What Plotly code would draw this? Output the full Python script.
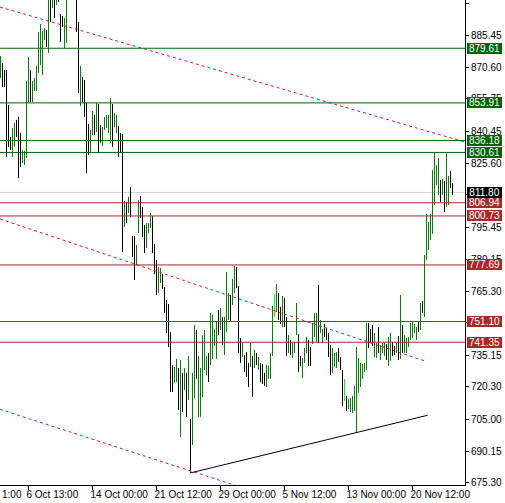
import plotly.graph_objects as go

# ---------------- data ----------------
highs = [
    876.0, 872.7, 869.4, 869.4, 852.9, 837.9, 842.1, 844.5, 845.9, 847.3,
    839.8, 831.8, 831.3, 864.2, 875.5, 869.4, 864.2, 865.6, 871.3, 887.3,
    891.0, 887.7, 889.1, 888.2, 904.6, 906.0, 906.0, 905.0, 907.0, 910.0,
    895.7, 894.8, 893.8, 906.0, 915.0, 918.0, 920.0, 916.0, 908.0, 892.0,
    871.3, 866.1, 864.7, 853.9, 844.0, 841.2, 850.1, 848.2, 853.9, 853.4,
    843.5, 842.6, 847.3, 848.2, 848.2, 856.2, 853.4, 849.2, 848.2, 843.0,
    839.8, 839.3, 807.8, 807.3, 809.7, 814.3, 791.3, 791.3, 787.1, 808.2,
    810.1, 805.0, 796.5, 797.4, 797.4, 802.1, 800.7, 787.5, 780.0, 776.7,
    776.2, 773.4, 767.3, 761.2, 759.3, 746.2, 730.6, 729.7, 733.5, 729.2,
    733.0, 726.9, 729.2, 726.9, 734.9, 705.2, 726.9, 749.4, 747.1, 734.9,
    729.2, 744.7, 747.1, 734.9, 736.3, 755.1, 754.2, 747.6, 750.9, 756.5,
    757.4, 753.2, 753.2, 774.4, 764.5, 763.6, 771.1, 777.2, 776.7, 767.8,
    743.3, 741.0, 735.3, 736.7, 731.6, 741.0, 734.9, 737.7, 736.3, 734.4,
    731.6, 731.1, 726.9, 730.6, 730.2, 736.3, 758.4, 764.0, 768.7, 764.5,
    757.9, 763.1, 762.1, 753.2, 744.7, 742.4, 741.0, 741.5, 759.8, 745.2,
    734.9, 733.9, 738.6, 743.8, 742.4, 739.1, 750.4, 755.1, 755.1, 768.3,
    751.8, 747.6, 749.9, 748.0, 745.7, 740.0, 738.6, 736.3, 736.7, 738.6,
    734.4, 728.3, 724.1, 716.1, 714.7, 715.1, 716.1, 720.8, 739.1, 733.9,
    731.6, 731.1, 731.6, 750.4, 750.4, 747.6, 749.4, 745.7, 741.0, 748.5,
    740.0, 741.0, 741.0, 740.5, 743.8, 745.7, 741.5, 739.6, 741.0, 744.3,
    763.6, 749.4, 744.7, 743.3, 743.8, 750.4, 750.9, 749.9, 748.5, 750.9,
    759.8, 760.7, 782.4, 801.7, 797.9, 801.7, 822.3, 830.3, 824.7, 828.0,
    817.6, 818.1, 817.2, 830.3, 819.5, 821.9, 816.2,
]
lows = [
    865.6, 861.4, 861.4, 828.5, 833.2, 831.8, 828.5, 833.2, 837.9, 818.5,
    823.8, 825.7, 824.7, 828.0, 854.3, 854.3, 854.3, 859.5, 859.5, 868.0,
    871.7, 867.0, 883.5, 880.2, 877.4, 892.0, 898.5, 893.8, 900.0, 901.4,
    882.5, 889.6, 879.7, 882.1, 904.0, 905.0, 908.0, 904.0, 887.3, 858.6,
    852.4, 854.3, 847.3, 820.9, 829.4, 830.3, 838.8, 838.8, 840.2, 830.3,
    835.1, 833.6, 841.2, 842.1, 839.8, 835.1, 833.2, 842.6, 839.8, 828.5,
    830.3, 783.8, 795.5, 797.4, 802.1, 800.2, 781.4, 770.6, 777.7, 792.7,
    799.8, 790.8, 783.3, 785.7, 792.7, 795.1, 783.3, 773.4, 763.6, 764.5,
    769.2, 766.4, 755.1, 745.7, 739.1, 718.0, 718.0, 722.2, 722.6, 709.5,
    696.8, 708.5, 718.9, 706.2, 714.2, 679.9, 693.0, 715.1, 724.1, 706.2,
    706.2, 715.6, 728.3, 725.9, 722.6, 730.6, 733.5, 739.6, 733.5, 744.7,
    747.1, 740.0, 735.3, 746.2, 751.8, 750.9, 758.9, 764.5, 766.8, 736.3,
    731.6, 734.4, 727.3, 725.0, 720.3, 729.7, 715.6, 729.2, 730.6, 728.3,
    722.6, 721.7, 720.8, 720.3, 724.1, 724.1, 734.9, 753.2, 755.6, 751.8,
    749.9, 748.5, 748.5, 734.9, 736.3, 735.3, 733.9, 736.3, 744.7, 727.3,
    730.2, 724.5, 731.6, 736.3, 730.2, 730.2, 740.5, 743.8, 741.5, 741.0,
    745.7, 741.0, 743.8, 742.4, 734.4, 725.9, 726.9, 729.7, 729.2, 732.0,
    728.3, 711.4, 713.7, 709.0, 709.9, 708.5, 708.1, 709.0, 698.7, 717.5,
    720.3, 724.1, 727.3, 728.3, 738.6, 741.0, 739.6, 734.4, 733.9, 736.3,
    733.0, 736.3, 734.9, 733.0, 730.2, 732.5, 734.9, 735.3, 736.3, 733.0,
    733.5, 736.3, 736.3, 736.3, 739.1, 742.4, 743.3, 745.7, 742.4, 746.2,
    747.1, 755.1, 753.2, 780.0, 784.7, 789.4, 792.3, 805.9, 815.3, 810.6,
    807.3, 810.6, 802.6, 804.9, 805.9, 813.9, 810.6,
]
# u = bull bar, d = bear bar, n = neutral bar (one letter per bar)
directions = list(
    "uddddduudd" "duuuuduuuu" "uuudududud" "dduuududdd" "udddduudud"
    "duuuuuduud" "ddududdduu" "ddduuudddu" "udddddduud" "udududuudu"
    "uuuuduuuud" "uduuuduudd" "dudddududu" "ddduuuunud" "dudduduuud"
    "duuudduuud" "uudddduuud" "ddnduuuuuu" "uuuuddduud" "uuuduuddud"
    "uduuuuuuud" "uduuuuuuuu" "duduudd"
)

x_tick_bars = [14, 46, 78, 110, 142, 174, 206]
x_tick_text = ["6 Oct 13:00", "14 Oct 00:00", "21 Oct 12:00", "29 Oct 00:00",
               "5 Nov 12:00", "13 Nov 00:00", "20 Nov 12:00"]
first_label_tail = "1:00"
y_tick_vals = [900.75, 885.45, 870.60, 855.75, 840.45, 825.60, 810.75, 795.45,
               780.15, 765.30, 750.45, 735.15, 720.30, 705.00, 690.15, 675.30]

resistance_levels = [879.61, 853.91, 836.18, 830.61]
support_levels = [806.94, 800.73, 777.69, 751.10, 741.35]
current_price = 811.80

# trend lines: (bar index, price) pairs
trend_upper_x, trend_upper_y = [-0.25, 232.25], [899.0, 835.5]
trend_mid_x, trend_mid_y = [-0.25, 212.25], [799.3, 732.5]
trend_low_x, trend_low_y = [-0.25, 232.25], [709.8, 639.1]
support_x, support_y = [95, 213.6], [679.9, 707.0]

# ---------------- figure ----------------
GREEN = "#008000"
LEVEL_GREEN = "#006400"
BROWN = "#A52A2A"
CRIMSON = "#DC143C"
FONT = "Liberation Sans"
FS = 10

n = min(len(highs), len(lows), len(directions))

fig = go.Figure()

fig.add_hline(y=current_price, line=dict(color="#D0D0D0", width=1), layer="below")


def segments(kind):
    xs, ys = [], []
    for i in range(n):
        if directions[i] == kind:
            xs += [i, i, None]
            ys += [lows[i], highs[i], None]
    return xs, ys


for kind, col in (("d", "#000000"), ("u", GREEN), ("n", "#00FF00")):
    xs, ys = segments(kind)
    fig.add_trace(go.Scatter(x=xs, y=ys, mode="lines",
                             line=dict(color=col, width=1), hoverinfo="skip"))

for lv in resistance_levels:
    fig.add_hline(y=lv, line=dict(color=LEVEL_GREEN, width=1))
for lv in support_levels:
    fig.add_hline(y=lv, line=dict(color=BROWN, width=1))

for tx, ty in ((trend_upper_x, trend_upper_y), (trend_mid_x, trend_mid_y),
               (trend_low_x, trend_low_y)):
    fig.add_trace(go.Scatter(x=tx, y=ty, mode="lines",
                             line=dict(color=CRIMSON, width=1, dash="3px,3px"),
                             hoverinfo="skip"))
fig.add_trace(go.Scatter(x=support_x, y=support_y, mode="lines",
                         line=dict(color="#000000", width=1), hoverinfo="skip"))


def price_label(val, bg):
    fig.add_annotation(x=1, xref="paper", y=val, yref="y", xanchor="left",
                       yanchor="middle", xshift=2, text=f"{val:.2f}",
                       showarrow=False, bgcolor=bg, borderpad=0, borderwidth=0,
                       width=35, height=11, align="center",
                       font=dict(family=FONT, size=FS, color="white"))


for lv in resistance_levels:
    price_label(lv, LEVEL_GREEN)
for lv in support_levels:
    price_label(lv, BROWN)
price_label(current_price, "#000000")

fig.add_annotation(x=0, xref="paper", y=-0.0206, yref="paper",
                   text=first_label_tail, showarrow=False, xanchor="left",
                   yanchor="middle",
                   font=dict(family=FONT, size=FS, color="black"))

fig.update_layout(
    width=505, height=503,
    margin=dict(l=0, r=40, t=0, b=18, autoexpand=False),
    paper_bgcolor="white", plot_bgcolor="white",
    showlegend=False,
    xaxis=dict(range=[-0.25, 232.25], showgrid=False, zeroline=False,
               showline=True, linecolor="black", linewidth=1,
               ticks="outside", ticklen=4, tickcolor="black", tickwidth=1,
               tickvals=x_tick_bars, ticktext=x_tick_text, tickangle=0,
               ticklabelposition="outside right", ticklabelshift=-3,
               automargin=False,
               tickfont=dict(family=FONT, size=FS, color="black"),
               fixedrange=True),
    yaxis=dict(range=[674.2, 902.3], side="right", showgrid=False, zeroline=False,
               showline=True, linecolor="black", linewidth=1,
               ticks="outside", ticklen=3, tickcolor="black", tickwidth=1,
               tickvals=y_tick_vals, ticktext=[f"{v:.2f}" for v in y_tick_vals],
               automargin=False,
               tickfont=dict(family=FONT, size=FS, color="black"),
               fixedrange=True),
)

fig.write_html(
    "out.html",
    config={"displayModeBar": False},
    post_script="document.body.style.margin='0';document.body.style.overflow='hidden';",
)
